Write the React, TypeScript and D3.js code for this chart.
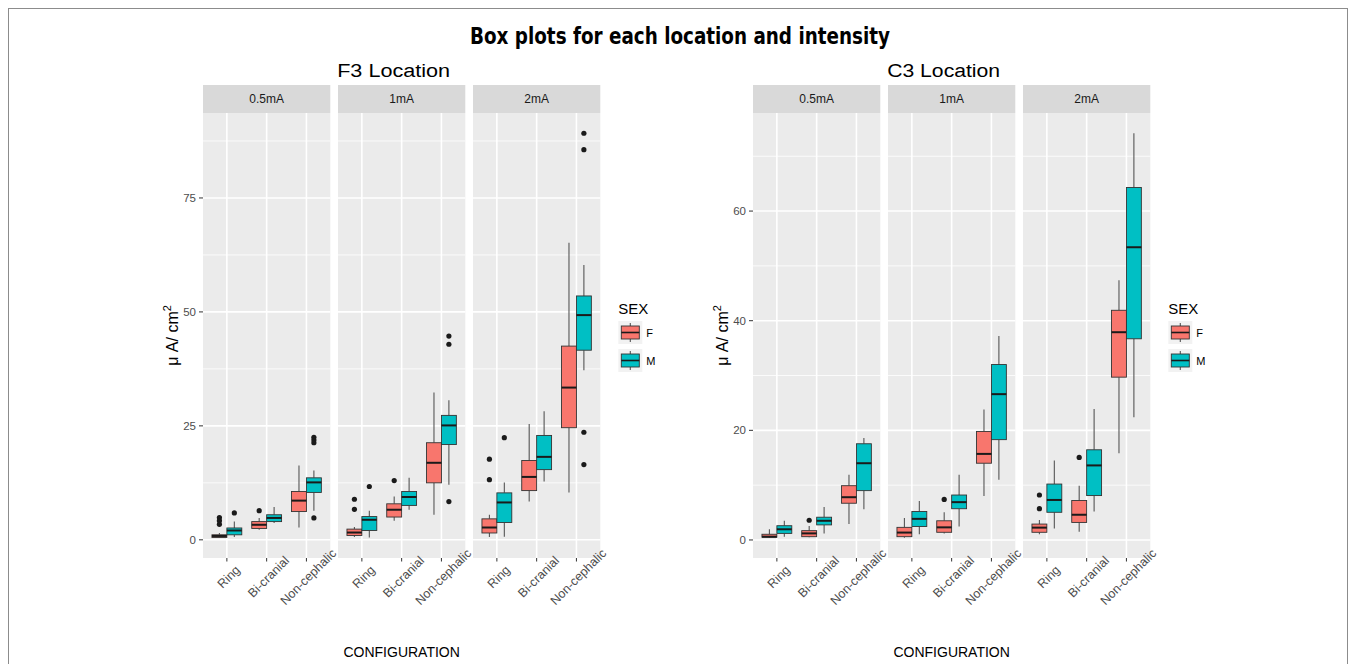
import * as d3 from "d3";

const intensities = ["0.5mA", "1mA", "2mA"];
const configurations = ["Ring", "Bi-cranial", "Non-cephalic"];
const sexes = ["F", "M"];
const sexColors = ["#F8766D", "#00BFC4"];

// box stats: [lower whisker, Q1, median, Q3, upper whisker]
// row order: 0.5mA Ring, Bi-cranial, Non-cephalic, 1mA ..., 2mA ...
const f3Female = [
  [0.45, 0.5, 0.85, 1.1, 1.5],
  [2.2, 2.5, 3.3, 4.0, 4.8],
  [2.7, 6.2, 8.6, 10.6, 16.3],
  [0.6, 0.95, 1.6, 2.35, 2.8],
  [4.2, 5.0, 6.6, 7.9, 9.5],
  [5.5, 12.5, 16.9, 21.3, 32.3],
  [0.6, 1.5, 2.7, 4.6, 5.5],
  [8.4, 10.8, 13.8, 17.4, 25.4],
  [10.4, 24.6, 33.4, 42.5, 65.2],
];
const f3Male = [
  [0.6, 1.1, 2.05, 2.6, 4.0],
  [3.7, 4.0, 4.8, 5.5, 7.2],
  [6.4, 10.4, 12.6, 13.6, 15.2],
  [0.5, 2.05, 4.4, 5.1, 6.4],
  [6.6, 7.55, 9.4, 10.6, 13.6],
  [12.1, 20.9, 25.1, 27.3, 30.6],
  [0.7, 3.8, 8.2, 10.3, 12.6],
  [12.8, 15.4, 18.2, 22.9, 28.2],
  [37.2, 41.6, 49.3, 53.5, 60.3],
];
const f3FemaleOut = [[4.9, 4.2, 3.4], [6.4], [], [8.9, 6.7], [13.0], [], [17.7, 13.2], [], []];
const f3MaleOut = [[5.9], [], [22.5, 21.9, 21.3, 4.8], [11.7], [], [44.7, 42.9, 8.4], [22.4], [], [89.2, 85.6, 23.6, 16.5]];

const c3Female = [
  [0.4, 0.5, 0.6, 1.04, 1.95],
  [0.5, 0.6, 1.2, 1.7, 2.55],
  [2.9, 6.7, 7.8, 9.9, 11.9],
  [0.4, 0.6, 1.35, 2.3, 4.0],
  [1.2, 1.4, 2.3, 3.5, 5.05],
  [8.0, 14.0, 15.7, 19.8, 23.8],
  [1.04, 1.4, 2.25, 2.9, 3.65],
  [1.5, 3.2, 4.6, 7.2, 9.9],
  [15.8, 29.7, 37.9, 41.9, 47.4],
];
const c3Male = [
  [0.6, 1.2, 1.95, 2.6, 3.5],
  [1.2, 2.75, 3.5, 4.15, 6.0],
  [5.6, 9.0, 14.0, 17.55, 18.6],
  [1.04, 2.45, 3.85, 5.2, 7.1],
  [2.45, 5.7, 6.9, 8.2, 11.9],
  [11.0, 18.3, 26.6, 32.0, 37.2],
  [2.1, 5.05, 7.3, 10.2, 14.5],
  [5.2, 8.1, 13.6, 16.45, 23.9],
  [22.4, 36.7, 53.4, 64.3, 74.2],
];
const c3FemaleOut = [[], [3.6], [], [], [7.4], [], [8.2, 5.7], [15.05], []];
const c3MaleOut = [[], [], [], [], [], [], [], [], []];

const f3Ticks = [0, 25, 50, 75];
const c3Ticks = [0, 20, 40, 60];

const locations = [
  { title: "F3 Location", stats: [f3Female, f3Male], outliers: [f3FemaleOut, f3MaleOut], ticks: f3Ticks },
  { title: "C3 Location", stats: [c3Female, c3Male], outliers: [c3FemaleOut, c3MaleOut], ticks: c3Ticks },
];

// layout
const W = 1356;
const H = 664;
const facetLeft = [203, 753];
const panelW = 127.3;
const panelGap = 7.7;
const stripTop = 85;
const panelTop = 113;
const panelBottom = 558;
const font = "'Liberation Sans', Arial, sans-serif";

function Facet({ loc, left }: { loc: any; left: number }) {
  const all: number[] = [];
  loc.stats.forEach((s: number[][]) => s.forEach((r) => all.push(...r)));
  loc.outliers.forEach((s: number[][]) => s.forEach((r) => all.push(...r)));
  const [mn, mx] = d3.extent(all) as [number, number];
  const pad = (mx - mn) * 0.05;
  const y = d3.scaleLinear().domain([mn - pad, mx + pad]).range([panelBottom, panelTop]);
  const step = loc.ticks[1] - loc.ticks[0];
  const minors = d3
    .range(loc.ticks[0] - step / 2, mx + pad, step)
    .filter((v) => v > mn - pad && v < mx + pad);
  const right = left + 3 * panelW + 2 * panelGap;
  const center = (left + right) / 2;
  const legX = right + 18;

  return (
    <g>
      <text x={center - 8} y={77} textAnchor="middle" fontFamily={font} fontSize={18} fill="#000" textLength={113} lengthAdjust="spacingAndGlyphs">
        {loc.title}
      </text>
      {intensities.map((inten, i) => {
        const px = left + i * (panelW + panelGap);
        const x = d3.scalePoint().domain(configurations).range([px, px + panelW]).padding(0.6);
        const bw = x.step() * 0.375;
        return (
          <g key={inten}>
            <rect x={px} y={stripTop} width={panelW} height={panelTop - stripTop} fill="#D9D9D9" />
            <text x={px + panelW / 2} y={103} textAnchor="middle" fontFamily={font} fontSize={12} fill="#1A1A1A">
              {inten}
            </text>
            <rect x={px} y={panelTop} width={panelW} height={panelBottom - panelTop} fill="#EBEBEB" />
            {minors.map((v) => (
              <line key={"mn" + v} x1={px} x2={px + panelW} y1={y(v)} y2={y(v)} stroke="#fff" strokeWidth={0.8} />
            ))}
            {loc.ticks.map((v: number) => (
              <line key={"mj" + v} x1={px} x2={px + panelW} y1={y(v)} y2={y(v)} stroke="#fff" strokeWidth={1.6} />
            ))}
            {configurations.map((c) => (
              <line key={"vx" + c} x1={x(c)} x2={x(c)} y1={panelTop} y2={panelBottom} stroke="#fff" strokeWidth={1.6} />
            ))}
            {configurations.map((c, j) =>
              sexes.map((s, k) => {
                const idx = i * 3 + j;
                const [lo, q1, med, q3, hi] = loc.stats[k][idx];
                const cx = (x(c) as number) + (k === 0 ? -0.5 : 0.5) * bw;
                return (
                  <g key={c + s}>
                    <line x1={cx} x2={cx} y1={y(hi)} y2={y(q3)} stroke="#555" strokeWidth={1.1} />
                    <line x1={cx} x2={cx} y1={y(q1)} y2={y(lo)} stroke="#555" strokeWidth={1.1} />
                    <rect x={cx - bw / 2} y={y(q3)} width={bw} height={y(q1) - y(q3)} fill={sexColors[k]} stroke="#333" strokeWidth={0.9} />
                    <line x1={cx - bw / 2} x2={cx + bw / 2} y1={y(med)} y2={y(med)} stroke="#1A1A1A" strokeWidth={2} />
                    {loc.outliers[k][idx].map((v: number, m: number) => (
                      <circle key={m} cx={cx} cy={y(v)} r={2.6} fill="#1A1A1A" />
                    ))}
                  </g>
                );
              })
            )}
            {configurations.map((c) => (
              <g key={"tk" + c}>
                <line x1={x(c)} x2={x(c)} y1={panelBottom} y2={panelBottom + 3.5} stroke="#333" strokeWidth={1} />
                <text
                  transform={`translate(${(x(c) as number) + 2},577) rotate(-45)`}
                  textAnchor="middle"
                  dominantBaseline="central"
                  fontFamily={font}
                  fontSize={12.5}
                  fill="#4D4D4D"
                >
                  {c}
                </text>
              </g>
            ))}
          </g>
        );
      })}
      {loc.ticks.map((v: number) => (
        <g key={"yt" + v}>
          <line x1={left - 4} x2={left} y1={y(v)} y2={y(v)} stroke="#333" strokeWidth={1} />
          <text x={left - 7} y={y(v)} textAnchor="end" dominantBaseline="central" fontFamily={font} fontSize={11.5} fill="#4D4D4D">
            {v}
          </text>
        </g>
      ))}
      <text transform={`translate(${left - 25},${(panelTop + panelBottom) / 2}) rotate(-90)`} textAnchor="middle" fontFamily={font} fontSize={16} fill="#000">
        μ A/ cm
        <tspan dy={-7} fontSize={11}>2</tspan>
      </text>
      <text x={center} y={657} textAnchor="middle" fontFamily={font} fontSize={14} fill="#000">
        CONFIGURATION
      </text>
      <text x={legX} y={314} fontFamily={font} fontSize={15} fill="#000">
        SEX
      </text>
      {sexes.map((s, k) => {
        const ky = 321 + k * 28;
        const kx = legX;
        return (
          <g key={"lg" + s}>
            <rect x={kx} y={ky} width={24} height={23} fill="#F2F2F2" />
            <line x1={kx + 12} x2={kx + 12} y1={ky + 2} y2={ky + 21} stroke="#555" strokeWidth={1.1} />
            <rect x={kx + 3} y={ky + 5} width={18} height={13} fill={sexColors[k]} stroke="#333" strokeWidth={0.9} />
            <line x1={kx + 3} x2={kx + 21} y1={ky + 11.5} y2={ky + 11.5} stroke="#1A1A1A" strokeWidth={1.6} />
            <text x={kx + 28} y={ky + 12} dominantBaseline="central" fontFamily={font} fontSize={11} fill="#000">
              {s}
            </text>
          </g>
        );
      })}
    </g>
  );
}

export default function App() {
  return (
    <div style={{ position: "absolute", left: 0, top: 0 }}>
      <svg width={W} height={H} style={{ display: "block", background: "#fff" }}>
        <rect x={8.5} y={8.5} width={1339} height={700} fill="none" stroke="#8C8C8C" strokeWidth={1} />
        <text x={680} y={44} textAnchor="middle" fontFamily="'Liberation Sans Narrow', 'DejaVu Sans Condensed', 'Liberation Sans', sans-serif" fontWeight="bold" fontSize={23} fill="#000" textLength={420} lengthAdjust="spacingAndGlyphs">
          Box plots for each location and intensity
        </text>
        {locations.map((loc, i) => (
          <Facet key={loc.title} loc={loc} left={facetLeft[i]} />
        ))}
      </svg>
    </div>
  );
}
